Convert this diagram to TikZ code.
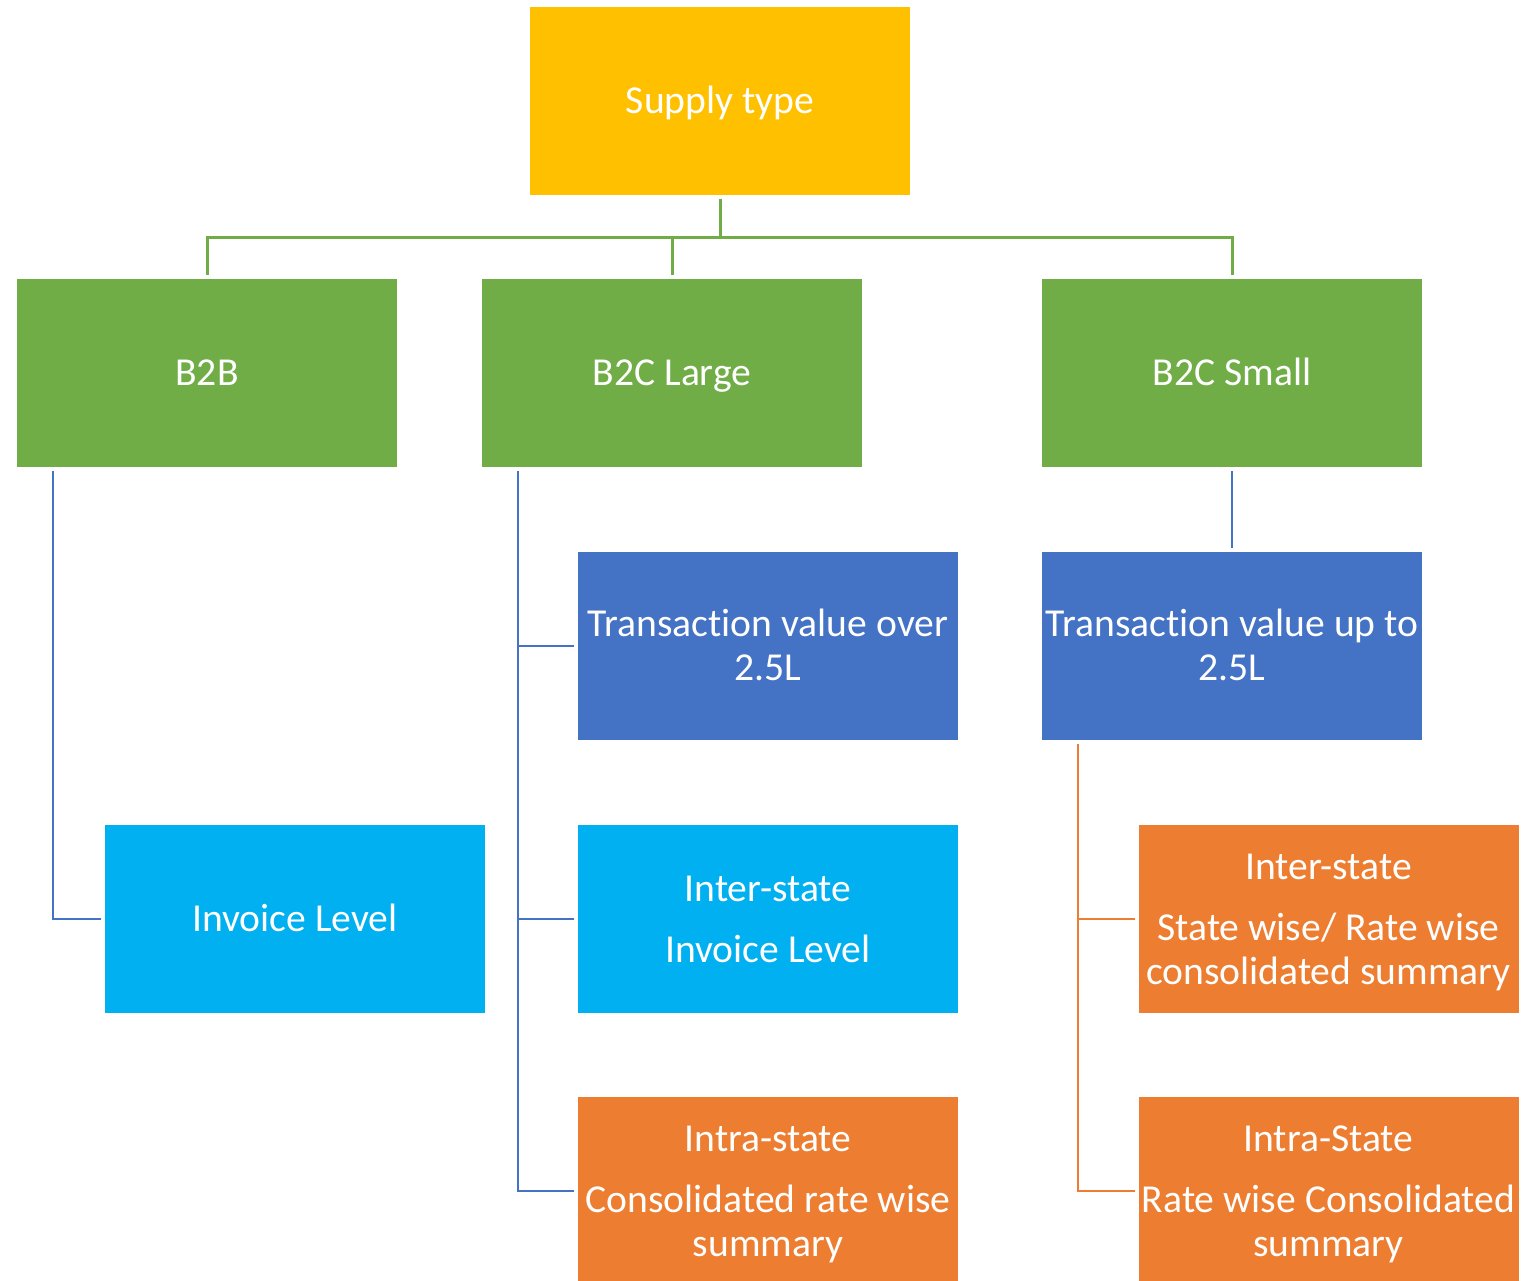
\documentclass[tikz,border=0pt]{standalone}
\usepackage{fontspec}
\setmainfont[Ligatures=NoCommon]{Carlito}
\definecolor{cyellow}{HTML}{FFC000}
\definecolor{cgreen}{HTML}{70AD47}
\definecolor{cblue}{HTML}{4472C4}
\definecolor{clight}{HTML}{00B0F0}
\definecolor{corange}{HTML}{ED7D31}
% fixed line height so every label is centred by its line box
\newcommand\lnstrut{\rule[-4.7pt]{0pt}{22pt}}
\begin{document}
\begin{tikzpicture}[x=0.5pt,y=-0.5pt,
  box/.style={fill=#1, text=white, minimum width=190pt, minimum height=94pt,
    inner sep=0pt, outer sep=2pt, align=center,
    font=\fontsize{19.8}{22}\selectfont},
  gline/.style={draw=cgreen, line width=1.5pt},
  bline/.style={draw=cblue, line width=1.3pt},
  oline/.style={draw=corange, line width=1.3pt}]
\useasboundingbox (0,0) rectangle (1521,1280);
% tree of boxes
\node[box=cyellow] (supply) at (720,100.5) {\lnstrut Supply type\lnstrut};
\node[box=cgreen] (b2b) at (207,373) {\lnstrut B2B\lnstrut};
\node[box=cgreen] (b2cl) at (672,373) {\lnstrut B2C Large\lnstrut};
\node[box=cgreen] (b2cs) at (1232,373) {\lnstrut B2C Small\lnstrut};
\node[box=cblue] (tvover) at (768,646) {\lnstrut Transaction value over\\2.5L\lnstrut};
\node[box=cblue] (tvup) at (1232,646) {\lnstrut Transaction value up to\\2.5L\lnstrut};
\node[box=clight] (inv1) at (295,919) {\lnstrut Invoice Level\lnstrut};
\node[box=clight] (inter1) at (768,919) {\lnstrut Inter-state\\[8.5pt]Invoice Level\lnstrut};
\node[box=corange] (intra1) at (768,1191) {\lnstrut Intra-state\\[8.5pt]Consolidated rate wise\\summary\lnstrut};
\node[box=corange] (inter2) at (1328.5,919) {\lnstrut Inter-state\\[8.5pt]State wise/ Rate wise\\consolidated summary\lnstrut};
\node[box=corange] (intra2) at (1328.5,1191) {\lnstrut Intra-State\\[8.5pt]Rate wise Consolidated\\summary\lnstrut};
% supply type to the three categories
\draw[gline] (supply.south) -- ++(0,39) coordinate (bar);
\draw[gline] (bar) -| (b2b.north);
\draw[gline] (bar) -| (b2cl.north);
\draw[gline] (bar) -| (b2cs.north);
% B2B branch
\coordinate (b2bst) at ([xshift=20pt]b2b.south west);
\draw[bline] (b2bst) |- (inv1.west);
% B2C Large branch
\coordinate (b2clst) at ([xshift=20pt]b2cl.south west);
\draw[bline] (b2clst) |- (intra1.west);
\draw[bline] (tvover.west -| b2clst) -- (tvover.west);
\draw[bline] (inter1.west -| b2clst) -- (inter1.west);
% B2C Small branch
\draw[bline] (b2cs.south) -- (tvup.north);
\coordinate (tvupst) at ([xshift=20pt]tvup.south west);
\draw[oline] (tvupst) |- (intra2.west);
\draw[oline] (inter2.west -| tvupst) -- (inter2.west);
\end{tikzpicture}
\end{document}
